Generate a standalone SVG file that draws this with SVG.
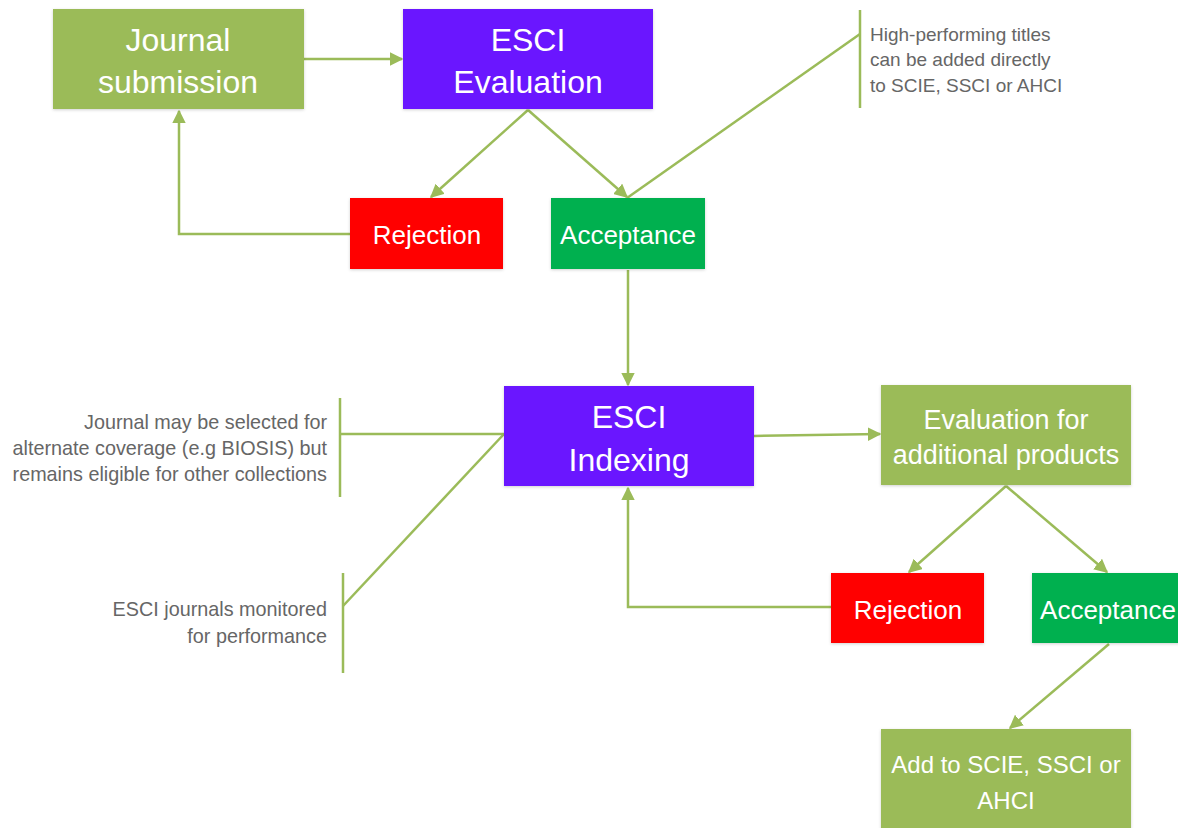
<svg xmlns="http://www.w3.org/2000/svg" width="1178" height="828" viewBox="0 0 1178 828">
<defs>
<marker id="arr" viewBox="0 0 10 10" refX="9" refY="5" markerWidth="5.5" markerHeight="5.5" markerUnits="strokeWidth" orient="auto">
<path d="M0,0 L10,5 L0,10 z" fill="#9BBB59"/>
</marker>
<filter id="sh" x="-10%" y="-10%" width="120%" height="130%">
<feDropShadow dx="0" dy="1" stdDeviation="1.5" flood-color="#000" flood-opacity="0.18"/>
</filter>
</defs>
<style>
.box{filter:url(#sh)}
.olive{fill:#9BBB59}
.purple{fill:#6B17FF}
.red{fill:#FF0000}
.green{fill:#00B050}
.t{font-family:"Liberation Sans",Arial,sans-serif;fill:#fff;text-anchor:middle}
.big{font-size:32px}
.mid{font-size:26px}
.note{font-family:"Liberation Sans",Arial,sans-serif;fill:#666;font-size:19.8px}
.ln{stroke:#9BBB59;stroke-width:2.5;fill:none}
.ar{marker-end:url(#arr)}
</style>
<rect width="1178" height="828" fill="#fff"/>

<g id="connectors">
<line class="ln ar" x1="304" y1="59" x2="402" y2="59"/>
<line class="ln ar" x1="528" y1="110" x2="431" y2="197"/>
<line class="ln ar" x1="528" y1="110" x2="627" y2="197"/>
<polyline class="ln ar" points="350,234 179,234 179,111"/>
<line class="ln" x1="627" y1="198" x2="860" y2="34"/>
<line class="ln" x1="860" y1="10" x2="860" y2="108"/>
<line class="ln ar" x1="628" y1="270" x2="628" y2="385"/>
<line class="ln ar" x1="754" y1="436" x2="880" y2="434"/>
<line class="ln" x1="340" y1="398" x2="340" y2="497"/>
<line class="ln" x1="340" y1="434" x2="504" y2="434"/>
<line class="ln" x1="343" y1="573" x2="343" y2="673"/>
<line class="ln" x1="343" y1="606" x2="504" y2="434"/>
<line class="ln ar" x1="1006" y1="486" x2="909" y2="572"/>
<line class="ln ar" x1="1006" y1="486" x2="1107" y2="572"/>
<polyline class="ln ar" points="831,607 628,607 628,488"/>
<line class="ln ar" x1="1109" y1="644" x2="1010" y2="728"/>
</g>

<g id="journal-submission">
<rect class="box olive" x="53" y="9" width="251" height="100"/>
<text class="t big" x="178" y="51">Journal</text>
<text class="t big" x="178" y="93">submission</text>
</g>

<g id="esci-evaluation">
<rect class="box purple" x="403" y="9" width="250" height="100"/>
<text class="t big" x="528" y="51">ESCI</text>
<text class="t big" x="528" y="93">Evaluation</text>
</g>

<g id="rejection-1">
<rect class="box red" x="350" y="198" width="153" height="71"/>
<text class="t mid" x="427" y="244">Rejection</text>
</g>

<g id="acceptance-1">
<rect class="box green" x="551" y="198" width="154" height="71"/>
<text class="t mid" x="628" y="244">Acceptance</text>
</g>

<g id="note-high-performing">
<text class="note" style="font-size:19px" x="870" y="41">High-performing titles</text>
<text class="note" style="font-size:19px" x="870" y="66">can be added directly</text>
<text class="note" style="font-size:19px" x="870" y="92">to SCIE, SSCI or AHCI</text>
</g>

<g id="esci-indexing">
<rect class="box purple" x="504" y="386" width="250" height="100"/>
<text class="t big" x="629" y="428">ESCI</text>
<text class="t big" x="629" y="471">Indexing</text>
</g>

<g id="note-alternate">
<text class="note" x="327" y="429" text-anchor="end">Journal may be selected for</text>
<text class="note" x="327" y="455" text-anchor="end">alternate coverage (e.g BIOSIS) but</text>
<text class="note" x="327" y="481" text-anchor="end">remains eligible for other collections</text>
</g>

<g id="note-monitored">
<text class="note" x="327" y="616" text-anchor="end">ESCI journals monitored</text>
<text class="note" x="327" y="643" text-anchor="end">for performance</text>
</g>

<g id="evaluation-additional">
<rect class="box olive" x="881" y="385" width="250" height="100"/>
<text class="t" style="font-size:27px" x="1006" y="429">Evaluation for</text>
<text class="t" style="font-size:27px" x="1006" y="464">additional products</text>
</g>

<g id="rejection-2">
<rect class="box red" x="831" y="573" width="153" height="70"/>
<text class="t mid" x="908" y="619">Rejection</text>
</g>

<g id="acceptance-2">
<rect class="box green" x="1032" y="573" width="150" height="70"/>
<text class="t mid" x="1108" y="619">Acceptance</text>
</g>

<g id="add-to-scie">
<rect class="box olive" x="881" y="729" width="250" height="104"/>
<text class="t" style="font-size:24px" x="1006" y="773">Add to SCIE, SSCI or</text>
<text class="t" style="font-size:24px" x="1006" y="809">AHCI</text>
</g>
</svg>
